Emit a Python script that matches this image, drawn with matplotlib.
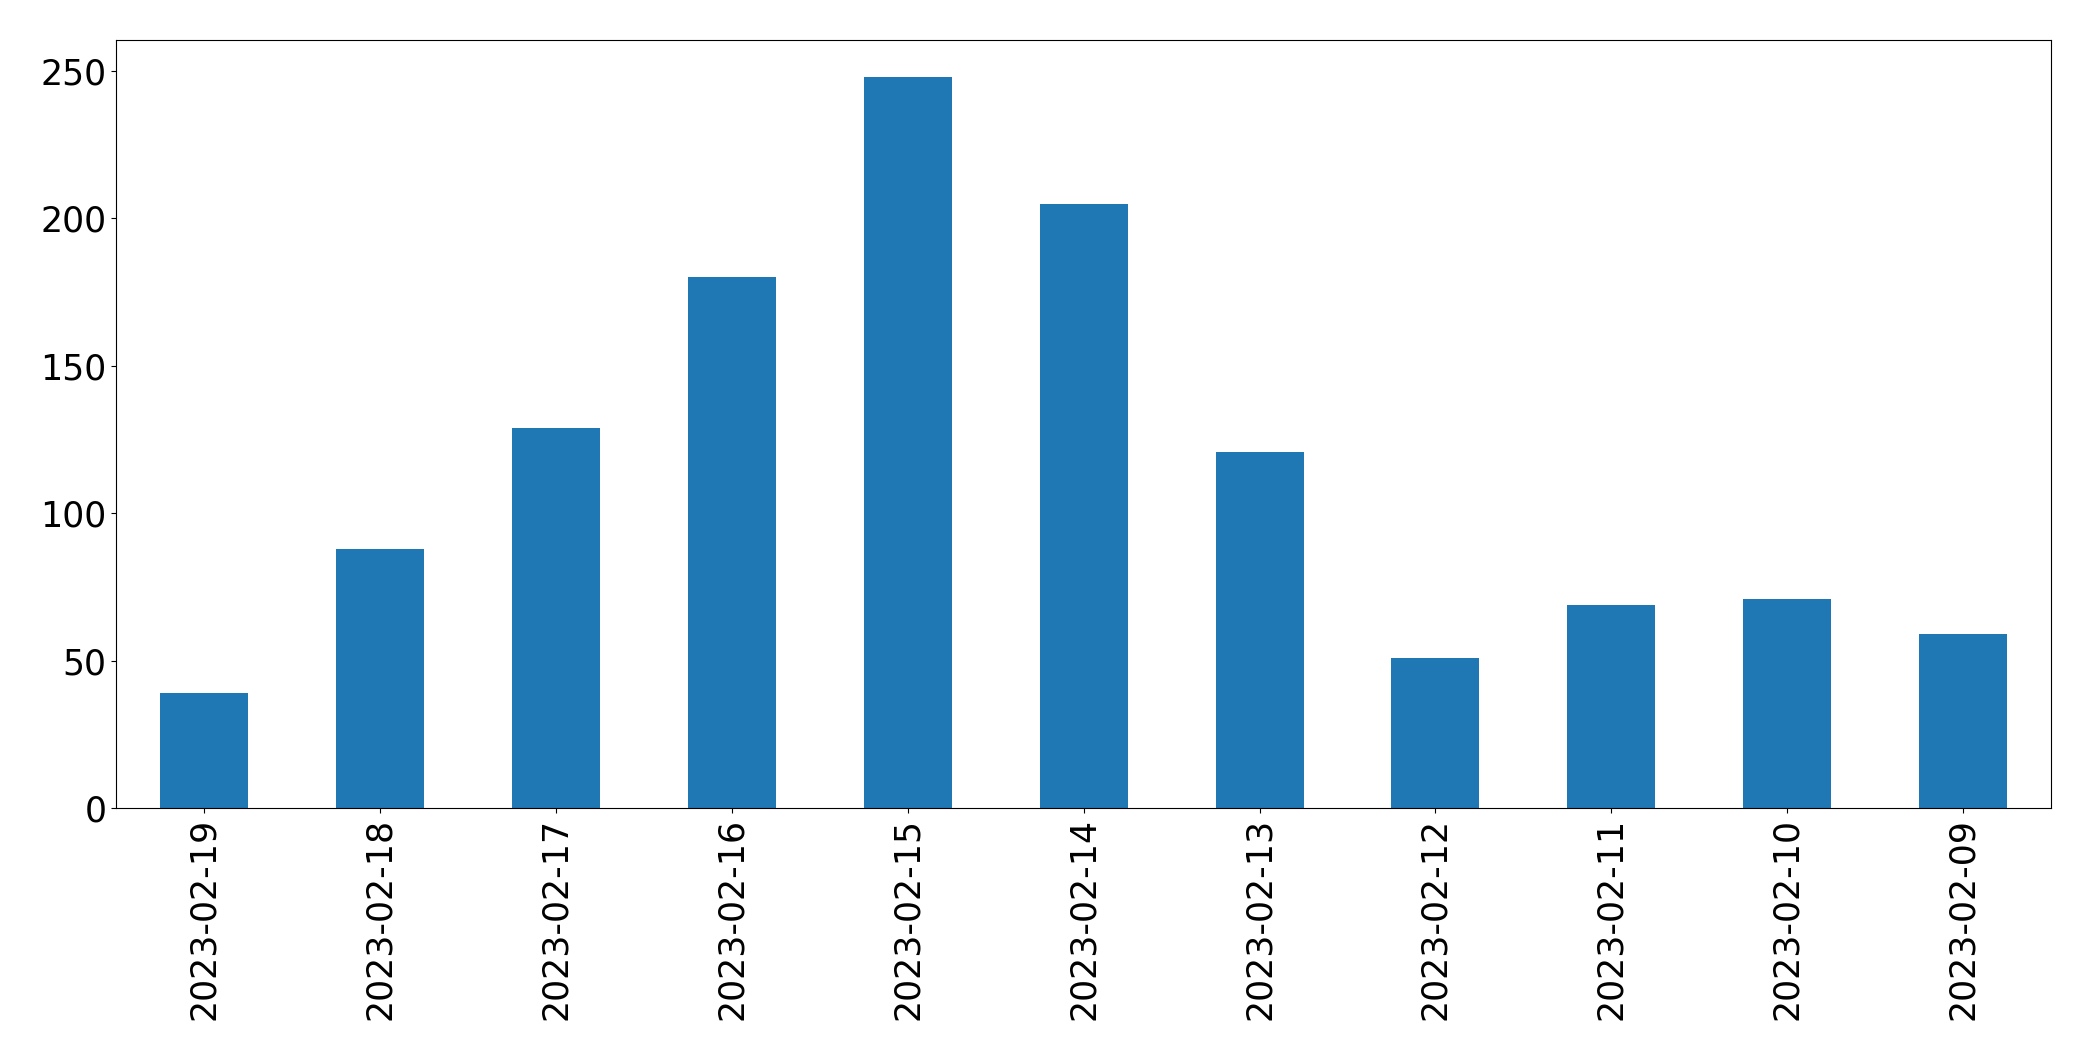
import matplotlib
matplotlib.use("Agg")
import matplotlib.pyplot as plt
import numpy as np

dates = ['2023-02-19', '2023-02-18', '2023-02-17', '2023-02-16', '2023-02-15',
         '2023-02-14', '2023-02-13', '2023-02-12', '2023-02-11', '2023-02-10',
         '2023-02-09']
counts = [39, 88, 129, 180, 248, 205, 121, 51, 69, 71, 59]

fig = plt.figure(figsize=(20.93, 10.61), dpi=100)
ax = fig.add_axes((0.0555, 0.238, 0.9245, 0.724))

x = np.arange(len(dates))
ax.bar(x, counts, width=0.5, color='#1f77b4')
ax.set_xlim(-0.5, len(dates) - 0.5)
ax.set_xticks(x)
ax.set_xticklabels(dates, rotation=90)
ax.tick_params(axis='both', labelsize=25)

fig.savefig('out.png', dpi=100)
